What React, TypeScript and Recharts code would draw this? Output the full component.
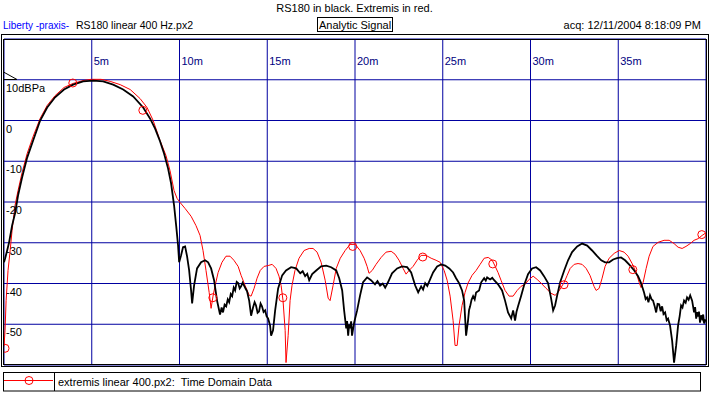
import React from 'react';
import { ComposedChart, Line, XAxis, YAxis, CartesianGrid } from 'recharts';

// time (ms), level (dBPa)
const rs180Black: [number, number][] = [
  [0, -34.8], [0.06, -33.9], [0.18, -31.9], [0.29, -29.9], [0.46, -25.8], [0.63, -22.8], [0.8, -18.4],
  [1.03, -14], [1.32, -9.1], [1.66, -4.9], [2.06, 0], [2.46, 3.2], [2.91, 5.7], [3.42, 7.6], [3.94, 8.8],
  [4.51, 9.6], [5.08, 9.8], [5.65, 9.6], [6.22, 8.8], [6.79, 7.6], [7.36, 5.9], [7.93, 3.2], [8.32, 0.5],
  [8.61, -2.0], [8.89, -5.1], [9.12, -8.1], [9.35, -11.8], [9.52, -15.4], [9.69, -20.8], [9.81, -25.8],
  [9.92, -30.7], [9.98, -34.8], [10.09, -33.1], [10.2, -31.1], [10.32, -30.9], [10.43, -33.3], [10.55, -36.8],
  [10.66, -41.7], [10.72, -44.9], [10.83, -40.5], [11.0, -36.3], [11.23, -34.8], [11.46, -34.3], [11.63, -34.8],
  [11.8, -36.3], [11.97, -39.2], [12.14, -44.2], [12.31, -47.6], [12.4, -45.9], [12.48, -47.1], [12.57, -45.2],
  [12.66, -45.6], [12.75, -43.9], [12.83, -44.6], [12.92, -42.6], [13.0, -43.1], [13.09, -41.0], [13.17, -41.7],
  [13.26, -39.6], [13.34, -39.9], [13.43, -41.2], [13.51, -40.7], [13.6, -39.8], [13.68, -40.5], [13.77, -41.3],
  [13.85, -41.9], [13.97, -44.2], [14.08, -47.9], [14.19, -45.9], [14.28, -44.6], [14.36, -45.4], [14.45, -47.2],
  [14.53, -46.9], [14.62, -44.9], [14.7, -45.6], [14.79, -47.0], [14.88, -46.6], [14.96, -48.0], [15.05, -48.6],
  [15.16, -50.3], [15.22, -52.8], [15.33, -51.5], [15.45, -46.6], [15.62, -41.2], [15.85, -38.0], [16.07, -36.8],
  [16.36, -36.0], [16.65, -36.3], [16.88, -37.5], [17.02, -37.0], [17.16, -38.2], [17.28, -37.6], [17.39, -39.2],
  [17.56, -37.7], [17.79, -36.8], [18.07, -35.8], [18.36, -35.6], [18.64, -36.0], [18.93, -36.8], [19.1, -38.7],
  [19.27, -41.7], [19.38, -46.6], [19.5, -51.0], [19.55, -49.2], [19.61, -52.8], [19.67, -50.0], [19.72, -51.0],
  [19.78, -49.3], [19.83, -52.8], [19.95, -49.6], [20.12, -46.6], [20.29, -42.9], [20.46, -39.7], [20.69, -38.5],
  [20.91, -39.2], [21.14, -40.2], [21.28, -39.4], [21.43, -40.5], [21.58, -40.0], [21.72, -41.0], [21.88, -39.7],
  [22.11, -37.5], [22.4, -36.3], [22.68, -35.8], [22.97, -36.0], [23.2, -37.3], [23.43, -40.5], [23.6, -42.2],
  [23.77, -40.7], [23.88, -41.5], [24.0, -39.9], [24.12, -40.6], [24.23, -39.5], [24.45, -37.3], [24.68, -35.8],
  [24.91, -35.3], [25.14, -35.6], [25.37, -36.3], [25.59, -37.3], [25.76, -38.7], [25.93, -39.9], [26.1, -41.7],
  [26.22, -44.2], [26.33, -52.8], [26.44, -49.1], [26.5, -46.5], [26.56, -45.6], [26.64, -44.0], [26.73, -43.1],
  [26.82, -43.9], [26.9, -42.2], [27.07, -41.7], [27.19, -39.7], [27.36, -38.7], [27.45, -39.3], [27.53, -38.5],
  [27.7, -39.0], [27.82, -38.6], [27.93, -39.2], [28.15, -40.2], [28.38, -41.7], [28.55, -44.2], [28.72, -47.1],
  [28.9, -48.6], [29.01, -46.6], [29.12, -49.1], [29.2, -47.0], [29.29, -45.6], [29.46, -43.1], [29.63, -40.5],
  [29.86, -37.7], [30.09, -36.3], [30.32, -36.0], [30.55, -36.8], [30.77, -38.2], [31.0, -39.9], [31.17, -43.6],
  [31.29, -46.6], [31.4, -45.4], [31.52, -42.9], [31.69, -39.7], [31.92, -36.8], [32.14, -34.3], [32.37, -32.3],
  [32.66, -30.9], [32.94, -30.2], [33.23, -30.7], [33.51, -31.9], [33.8, -33.3], [34.03, -34.3], [34.25, -34.8],
  [34.48, -34.8], [34.71, -34.1], [34.93, -33.8], [35.16, -33.6], [35.39, -34.3], [35.68, -35.6], [35.91, -36.8],
  [36.13, -38.2], [36.3, -39.9], [36.47, -42.2], [36.56, -43.8], [36.64, -43.4], [36.72, -44.6], [36.81, -42.9],
  [36.9, -43.9], [36.98, -44.2], [37.07, -45.5], [37.16, -47.1], [37.24, -45.0], [37.33, -45.1], [37.42, -46.8],
  [37.5, -45.6], [37.58, -47.5], [37.67, -47.1], [37.76, -49.0], [37.84, -48.6], [37.95, -50.3], [38.07, -54.0],
  [38.18, -59.4], [38.3, -55.2], [38.41, -50.3], [38.5, -48.0], [38.58, -45.4], [38.66, -45.9], [38.75, -44.2],
  [38.84, -44.7], [38.92, -43.4], [39.01, -44.0], [39.1, -42.9], [39.21, -44.2], [39.32, -47.1], [39.38, -45.8],
  [39.44, -48.6], [39.5, -47.0], [39.55, -48.1], [39.6, -46.9], [39.66, -49.6], [39.72, -47.8], [39.78, -48.6],
  [39.84, -47.6], [39.89, -49.8], [39.98, -48.8],
];

const extremisRed: [number, number][] = [
  [0, -55.4], [0.06, -51.5], [0.12, -44.2], [0.23, -36.8], [0.35, -31.9], [0.46, -27.0], [0.63, -20.8],
  [0.8, -17.2], [1.03, -12.8], [1.32, -8.1], [1.66, -3.9], [2.06, 0.5], [2.46, 3.7], [2.91, 6.1], [3.42, 8.1],
  [3.94, 9.1], [4.51, 9.8], [4.96, 10.1], [5.53, 10.1], [6.05, 9.6], [6.62, 8.8], [7.19, 7.6], [7.75, 5.4],
  [8.15, 3.2], [8.5, 0.0], [8.89, -4.9], [9.23, -8.6], [9.46, -12.3], [9.69, -17.2], [9.86, -19.1], [10.03, -20.1],
  [10.32, -21.6], [10.66, -23.5], [10.94, -25.8], [11.17, -28.2], [11.34, -31.9], [11.51, -36.8], [11.69, -42.2],
  [11.8, -46.1], [11.91, -43.1], [12.03, -40.5], [12.2, -37.3], [12.42, -34.8], [12.65, -33.3], [12.88, -33.3],
  [13.1, -34.3], [13.34, -35.8], [13.51, -38.0], [13.74, -40.5], [13.97, -42.9], [14.08, -43.1], [14.25, -41.2],
  [14.42, -38.7], [14.6, -36.8], [14.82, -35.8], [15.05, -35.6], [15.28, -35.3], [15.5, -36.3], [15.67, -38.2],
  [15.79, -40.5], [15.9, -44.2], [16.02, -51.5], [16.07, -59.4], [16.19, -52.8], [16.3, -44.2], [16.41, -40.5],
  [16.58, -36.8], [16.81, -33.8], [17.1, -31.9], [17.39, -31.4], [17.61, -31.4], [17.84, -32.3], [18.07, -34.8],
  [18.3, -39.2], [18.47, -43.6], [18.58, -44.2], [18.75, -40.5], [18.93, -36.3], [19.16, -33.8], [19.44, -31.9],
  [19.72, -30.4], [20.01, -30.4], [20.29, -31.9], [20.52, -33.8], [20.69, -35.8], [20.8, -37.5], [20.98, -36.8],
  [21.2, -35.3], [21.49, -33.6], [21.77, -32.3], [22.06, -32.1], [22.28, -32.8], [22.51, -34.3], [22.74, -36.3],
  [22.91, -37.7], [23.08, -36.8], [23.31, -35.8], [23.54, -34.3], [23.77, -33.1], [24.05, -33.1], [24.34, -33.8],
  [24.62, -34.3], [24.85, -34.8], [25.08, -36.8], [25.25, -39.2], [25.42, -43.1], [25.59, -49.1], [25.7, -55.2],
  [25.82, -55.2], [25.93, -50.3], [26.1, -45.4], [26.27, -42.2], [26.44, -39.9], [26.67, -38.0], [26.9, -36.8],
  [27.13, -35.3], [27.36, -33.8], [27.59, -33.6], [27.82, -34.3], [27.99, -35.8], [28.15, -37.3], [28.32, -39.2],
  [28.55, -41.7], [28.78, -43.1], [29.01, -43.1], [29.24, -41.7], [29.46, -40.7], [29.69, -40.2], [29.92, -39.0],
  [30.15, -38.2], [30.38, -39.0], [30.6, -39.9], [30.89, -41.2], [31.17, -42.4], [31.4, -42.9], [31.57, -42.2],
  [31.74, -41.0], [31.92, -39.7], [32.09, -38.0], [32.26, -36.3], [32.49, -35.3], [32.71, -35.1], [32.94, -35.3],
  [33.17, -36.3], [33.39, -38.0], [33.62, -40.7], [33.74, -41.7], [33.91, -41.2], [34.08, -38.7], [34.25, -35.8],
  [34.48, -33.8], [34.77, -32.6], [35.05, -31.9], [35.33, -32.3], [35.56, -33.3], [35.79, -35.1], [36.02, -37.3],
  [36.19, -39.7], [36.3, -41.0], [36.42, -39.7], [36.59, -36.3], [36.76, -33.3], [36.98, -30.9], [37.27, -29.9],
  [37.61, -29.4], [37.9, -29.4], [38.18, -30.2], [38.41, -31.1], [38.64, -31.4], [38.86, -30.9], [39.1, -30.2],
  [39.32, -29.4], [39.55, -29.0], [39.78, -28.2], [39.95, -27.7],
];

const extremisMarkers: [number, number][] = [
  [0.06, -55.9], [3.92, 9.2], [7.91, 2.5], [11.9, -43.5], [15.89, -43.5], [19.87, -30.9],
  [23.86, -33.5], [27.85, -35.2], [31.91, -40.3], [35.83, -36.6], [39.76, -28.0],
];

const xTicks = [5, 10, 15, 20, 25, 30, 35];
const xTickLabels = ['5m', '10m', '15m', '20m', '25m', '30m', '35m'];
const yTicks = [10, 0, -10, -20, -30, -40, -50];
const yTickLabels = ['10dBPa', '0', '-10', '-20', '-30', '-40', '-50'];

const titleText = 'RS180 in black. Extremis in red.';
const sourceLabel = 'Liberty -praxis-';
const fileLabel = 'RS180 linear 400 Hz.px2';
const modeLabel = 'Analytic Signal';
const acqLabel = 'acq: 12/11/2004 8:18:09 PM';
const legendLabel = 'extremis linear 400.px2:  Time Domain Data';

const toRows = (pairs: [number, number][]) => pairs.map(([t, v]) => ({ t, v }));

const FONT = '"Liberation Sans", Arial, sans-serif';
const GRID = '#0000a0';

const XTick = (props: any) => {
  const idx = xTicks.indexOf(props.payload.value);
  return (
    <text x={props.x + 2} y={65} fill="#000080" fontSize={11} fontFamily={FONT}>
      {xTickLabels[idx]}
    </text>
  );
};

const YTick = (props: any) => {
  const idx = yTicks.indexOf(props.payload.value);
  return (
    <text x={6} y={props.y + 12} fill="#000" fontSize={11} fontFamily={FONT}>
      {yTickLabels[idx]}
    </text>
  );
};

export default function App() {
  const W = 709;
  const H = 395;
  return (
    <div style={{ position: 'absolute', left: 0, top: 0, width: W, height: H, background: '#fff' }}>
      <ComposedChart
        width={W}
        height={H}
        margin={{ top: 39, right: 3, bottom: 30, left: 4 }}
        style={{ position: 'absolute', left: 0, top: 0 }}
      >
        <CartesianGrid stroke={GRID} strokeWidth={1} />
        <XAxis
          type="number"
          dataKey="t"
          domain={[0, 40]}
          ticks={xTicks}
          orientation="top"
          mirror
          axisLine={false}
          tickLine={false}
          tick={(p: any) => <XTick {...p} />}
          allowDataOverflow
          interval={0}
        />
        <YAxis
          type="number"
          dataKey="v"
          domain={[-60, 20]}
          ticks={yTicks}
          mirror
          axisLine={false}
          tickLine={false}
          tick={(p: any) => <YTick {...p} />}
          allowDataOverflow
          interval={0}
        />
        <Line
          data={toRows(extremisRed)}
          dataKey="v"
          type="linear"
          stroke="#ff0000"
          strokeWidth={1}
          dot={false}
          isAnimationActive={false}
        />
        <Line
          data={toRows(rs180Black)}
          dataKey="v"
          type="linear"
          stroke="#000"
          strokeWidth={1.8}
          dot={false}
          isAnimationActive={false}
        />
        <Line
          data={toRows(extremisMarkers)}
          dataKey="v"
          type="linear"
          stroke="none"
          dot={{ r: 4, stroke: '#ff0000', strokeWidth: 1, fill: 'none' }}
          isAnimationActive={false}
        />
      </ComposedChart>
      <svg
        width={W}
        height={H}
        style={{ position: 'absolute', left: 0, top: 0, pointerEvents: 'none' }}
        fontFamily={FONT}
        fontSize={11}
      >
        <text x={354.5} y={12} textAnchor="middle" fill="#000">{titleText}</text>
        <text x={3} y={28.5} fill="#0000ff" textLength={66} lengthAdjust="spacingAndGlyphs">{sourceLabel}</text>
        <text x={76} y={28.5} fill="#000" textLength={117} lengthAdjust="spacingAndGlyphs">{fileLabel}</text>
        <rect x={317.5} y={17.5} width={75} height={14} fill="none" stroke="#000" strokeWidth={1} />
        <text x={355} y={28.5} textAnchor="middle" fill="#000">{modeLabel}</text>
        <text x={701} y={28.5} textAnchor="end" fill="#000">{acqLabel}</text>

        <rect x={1.5} y={34.5} width={707} height={332} fill="none" stroke="#000" strokeWidth={1} />
        <rect x={3.5} y={39.5} width={703} height={325} fill="none" stroke="#000" strokeWidth={1} />
        <line x1={3.5} y1={72} x2={17} y2={79.5} stroke="#000" strokeWidth={1} />
        <line x1={3.5} y1={79.5} x2={17} y2={79.5} stroke="#000" strokeWidth={1} />

        <rect x={3.5} y={372.5} width={697} height={18.5} fill="none" stroke="#000" strokeWidth={1} />
        <line x1={54.5} y1={372.5} x2={54.5} y2={391} stroke="#000" strokeWidth={1} />
        <line x1={4} y1={380.5} x2={53} y2={380.5} stroke="#ff0000" strokeWidth={1} />
        <circle cx={29} cy={380.5} r={4} fill="none" stroke="#ff0000" strokeWidth={1} />
        <text x={58} y={385.5} fill="#000" style={{ whiteSpace: 'pre' }}>{legendLabel}</text>
      </svg>
    </div>
  );
}
